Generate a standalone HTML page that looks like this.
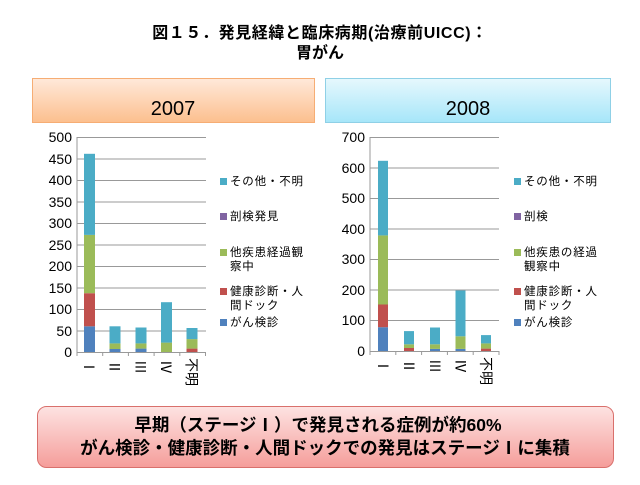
<!DOCTYPE html>
<html><head><meta charset="utf-8"><style>
body{margin:0;width:640px;height:480px;background:#fff;overflow:hidden;font-family:"Liberation Sans","Noto Sans CJK JP",sans-serif}
</style></head><body>
<svg width="640" height="480" xmlns="http://www.w3.org/2000/svg" font-family="Liberation Sans, Noto Sans CJK JP, sans-serif">
<defs>
<linearGradient id="go" x1="0" y1="0" x2="0" y2="1"><stop offset="0" stop-color="#ffe9da"/><stop offset="1" stop-color="#fcbf8e"/></linearGradient>
<linearGradient id="gb" x1="0" y1="0" x2="0" y2="1"><stop offset="0" stop-color="#e6f8fd"/><stop offset="1" stop-color="#a6e6f9"/></linearGradient>
<linearGradient id="gp" x1="0" y1="0" x2="0" y2="1"><stop offset="0" stop-color="#fde3e2"/><stop offset="1" stop-color="#f59d9a"/></linearGradient>
</defs>
<text x="320" y="38" text-anchor="middle" font-size="16" font-weight="bold" letter-spacing="0.6">図１５．発見経緯と臨床病期(治療前UICC)：</text>
<text x="320" y="58" text-anchor="middle" font-size="16" font-weight="bold">胃がん</text>
<rect x="32.5" y="78.5" width="282" height="44" fill="url(#go)" stroke="#f6ad74"/>
<rect x="325.5" y="78.5" width="285" height="44" fill="url(#gb)" stroke="#8fd0e6"/>
<text x="173" y="115" text-anchor="middle" font-size="20">2007</text>
<text x="468" y="115" text-anchor="middle" font-size="20">2008</text>

<g stroke="#999" stroke-width="1">
<line x1="77" y1="137.5" x2="206" y2="137.5"/><line x1="77" y1="159" x2="206" y2="159"/><line x1="77" y1="180.5" x2="206" y2="180.5"/><line x1="77" y1="202" x2="206" y2="202"/><line x1="77" y1="223.5" x2="206" y2="223.5"/><line x1="77" y1="245" x2="206" y2="245"/><line x1="77" y1="266.5" x2="206" y2="266.5"/><line x1="77" y1="288" x2="206" y2="288"/><line x1="77" y1="309.5" x2="206" y2="309.5"/><line x1="77" y1="331" x2="206" y2="331"/>
<line x1="77" y1="352.5" x2="206" y2="352.5"/><line x1="77" y1="137" x2="77" y2="356"/>
<line x1="102.7" y1="352" x2="102.7" y2="356"/><line x1="128.4" y1="352" x2="128.4" y2="356"/><line x1="154.1" y1="352" x2="154.1" y2="356"/><line x1="179.8" y1="352" x2="179.8" y2="356"/><line x1="205.5" y1="352" x2="205.5" y2="356"/>
</g>
<g font-size="14" text-anchor="end">
<text x="72" y="142">500</text><text x="72" y="164">450</text><text x="72" y="185">400</text><text x="72" y="207">350</text><text x="72" y="228">300</text><text x="72" y="250">250</text><text x="72" y="271">200</text><text x="72" y="293">150</text><text x="72" y="314">100</text><text x="72" y="336">50</text><text x="72" y="357">0</text>
</g>
<rect x="84" y="326.3" width="11" height="25.7" fill="#4F81BD"/><rect x="84" y="293.2" width="11" height="33.1" fill="#C0504D"/><rect x="84" y="234.9" width="11" height="58.3" fill="#9BBB59"/><rect x="84" y="153.8" width="11" height="81.1" fill="#4BACC6"/>
<rect x="109.5" y="349" width="11" height="3" fill="#4F81BD"/><rect x="109.5" y="343.4" width="11" height="5.6" fill="#9BBB59"/><rect x="109.5" y="326.3" width="11" height="17.1" fill="#4BACC6"/>
<rect x="135.5" y="348.6" width="11" height="3.4" fill="#4F81BD"/><rect x="135.5" y="343.4" width="11" height="5.2" fill="#9BBB59"/><rect x="135.5" y="327.5" width="11" height="15.9" fill="#4BACC6"/>
<rect x="161" y="342.6" width="11" height="9.4" fill="#9BBB59"/><rect x="161" y="302.2" width="11" height="40.4" fill="#4BACC6"/>
<rect x="186.5" y="348.6" width="11" height="3.4" fill="#C0504D"/><rect x="186.5" y="339.1" width="11" height="9.5" fill="#9BBB59"/><rect x="186.5" y="328" width="11" height="11.1" fill="#4BACC6"/>
<g font-size="14">
<text transform="translate(84,360) rotate(90)">Ⅰ</text><text transform="translate(109.5,360) rotate(90)">Ⅱ</text><text transform="translate(135.5,360) rotate(90)">Ⅲ</text><text transform="translate(161,360) rotate(90)">Ⅳ</text><text transform="translate(186.5,358) rotate(90)">不明</text>
</g>
<g font-size="11.5" letter-spacing="0.8">
<rect x="220" y="178" width="7" height="7" fill="#4BACC6"/><text x="230" y="185">その他・不明</text>
<rect x="220" y="213" width="7" height="7" fill="#8064A2"/><text x="230" y="220">剖検発見</text>
<rect x="220" y="249" width="7" height="7" fill="#9BBB59"/><text x="230" y="256">他疾患経過観</text><text x="230" y="270">察中</text>
<rect x="220" y="288" width="7" height="7" fill="#C0504D"/><text x="230" y="295">健康診断・人</text><text x="230" y="309">間ドック</text>
<rect x="220" y="319" width="7" height="7" fill="#4F81BD"/><text x="230" y="326">がん検診</text>
</g>

<g stroke="#999" stroke-width="1">
<line x1="370" y1="137.5" x2="499" y2="137.5"/><line x1="370" y1="168" x2="499" y2="168"/><line x1="370" y1="198.5" x2="499" y2="198.5"/><line x1="370" y1="229" x2="499" y2="229"/><line x1="370" y1="259.5" x2="499" y2="259.5"/><line x1="370" y1="290" x2="499" y2="290"/><line x1="370" y1="320.5" x2="499" y2="320.5"/>
<line x1="370" y1="351.5" x2="499" y2="351.5"/><line x1="370" y1="137" x2="370" y2="355"/>
<line x1="395.8" y1="351" x2="395.8" y2="355"/><line x1="421.6" y1="351" x2="421.6" y2="355"/><line x1="447.4" y1="351" x2="447.4" y2="355"/><line x1="473.2" y1="351" x2="473.2" y2="355"/><line x1="499" y1="351" x2="499" y2="355"/>
</g>
<g font-size="14" text-anchor="end">
<text x="365" y="142">700</text><text x="365" y="173">600</text><text x="365" y="203">500</text><text x="365" y="234">400</text><text x="365" y="264">300</text><text x="365" y="295">200</text><text x="365" y="325">100</text><text x="365" y="356">0</text>
</g>
<rect x="378" y="327.2" width="10" height="23.8" fill="#4F81BD"/><rect x="378" y="304.5" width="10" height="22.7" fill="#C0504D"/><rect x="378" y="235.4" width="10" height="69.1" fill="#9BBB59"/><rect x="378" y="160.8" width="10" height="74.6" fill="#4BACC6"/>
<rect x="404" y="348" width="10" height="3" fill="#C0504D"/><rect x="404" y="344.3" width="10" height="3.7" fill="#9BBB59"/><rect x="404" y="331.1" width="10" height="13.2" fill="#4BACC6"/>
<rect x="430" y="348.9" width="10" height="2.1" fill="#4F81BD"/><rect x="430" y="344.3" width="10" height="4.6" fill="#9BBB59"/><rect x="430" y="327.5" width="10" height="16.8" fill="#4BACC6"/>
<rect x="455.5" y="348.9" width="10" height="2.1" fill="#4F81BD"/><rect x="455.5" y="336.3" width="10" height="12.6" fill="#9BBB59"/><rect x="455.5" y="290.5" width="10" height="45.8" fill="#4BACC6"/>
<rect x="481" y="348.6" width="10" height="2.4" fill="#C0504D"/><rect x="481" y="343.4" width="10" height="5.2" fill="#9BBB59"/><rect x="481" y="335.1" width="10" height="8.3" fill="#4BACC6"/>
<g font-size="14">
<text transform="translate(378,359) rotate(90)">Ⅰ</text><text transform="translate(404,359) rotate(90)">Ⅱ</text><text transform="translate(430,359) rotate(90)">Ⅲ</text><text transform="translate(455.5,359) rotate(90)">Ⅳ</text><text transform="translate(481,357) rotate(90)">不明</text>
</g>
<g font-size="11.5" letter-spacing="0.8">
<rect x="514" y="178" width="7" height="7" fill="#4BACC6"/><text x="524" y="185">その他・不明</text>
<rect x="514" y="213" width="7" height="7" fill="#8064A2"/><text x="524" y="220">剖検</text>
<rect x="514" y="249" width="7" height="7" fill="#9BBB59"/><text x="524" y="256">他疾患の経過</text><text x="524" y="270">観察中</text>
<rect x="514" y="288" width="7" height="7" fill="#C0504D"/><text x="524" y="295">健康診断・人</text><text x="524" y="309">間ドック</text>
<rect x="514" y="319" width="7" height="7" fill="#4F81BD"/><text x="524" y="326">がん検診</text>
</g>

<rect x="37.5" y="406.5" width="576" height="61" rx="9" fill="url(#gp)" stroke="#d9706c"/>
<text x="318" y="431" text-anchor="middle" font-size="17.5" font-weight="bold">早期（ステージⅠ）で発見される症例が約60%</text>
<text x="325" y="454" text-anchor="middle" font-size="17.5" font-weight="bold">がん検診・健康診断・人間ドックでの発見はステージⅠに集積</text>
</svg>
</body></html>
